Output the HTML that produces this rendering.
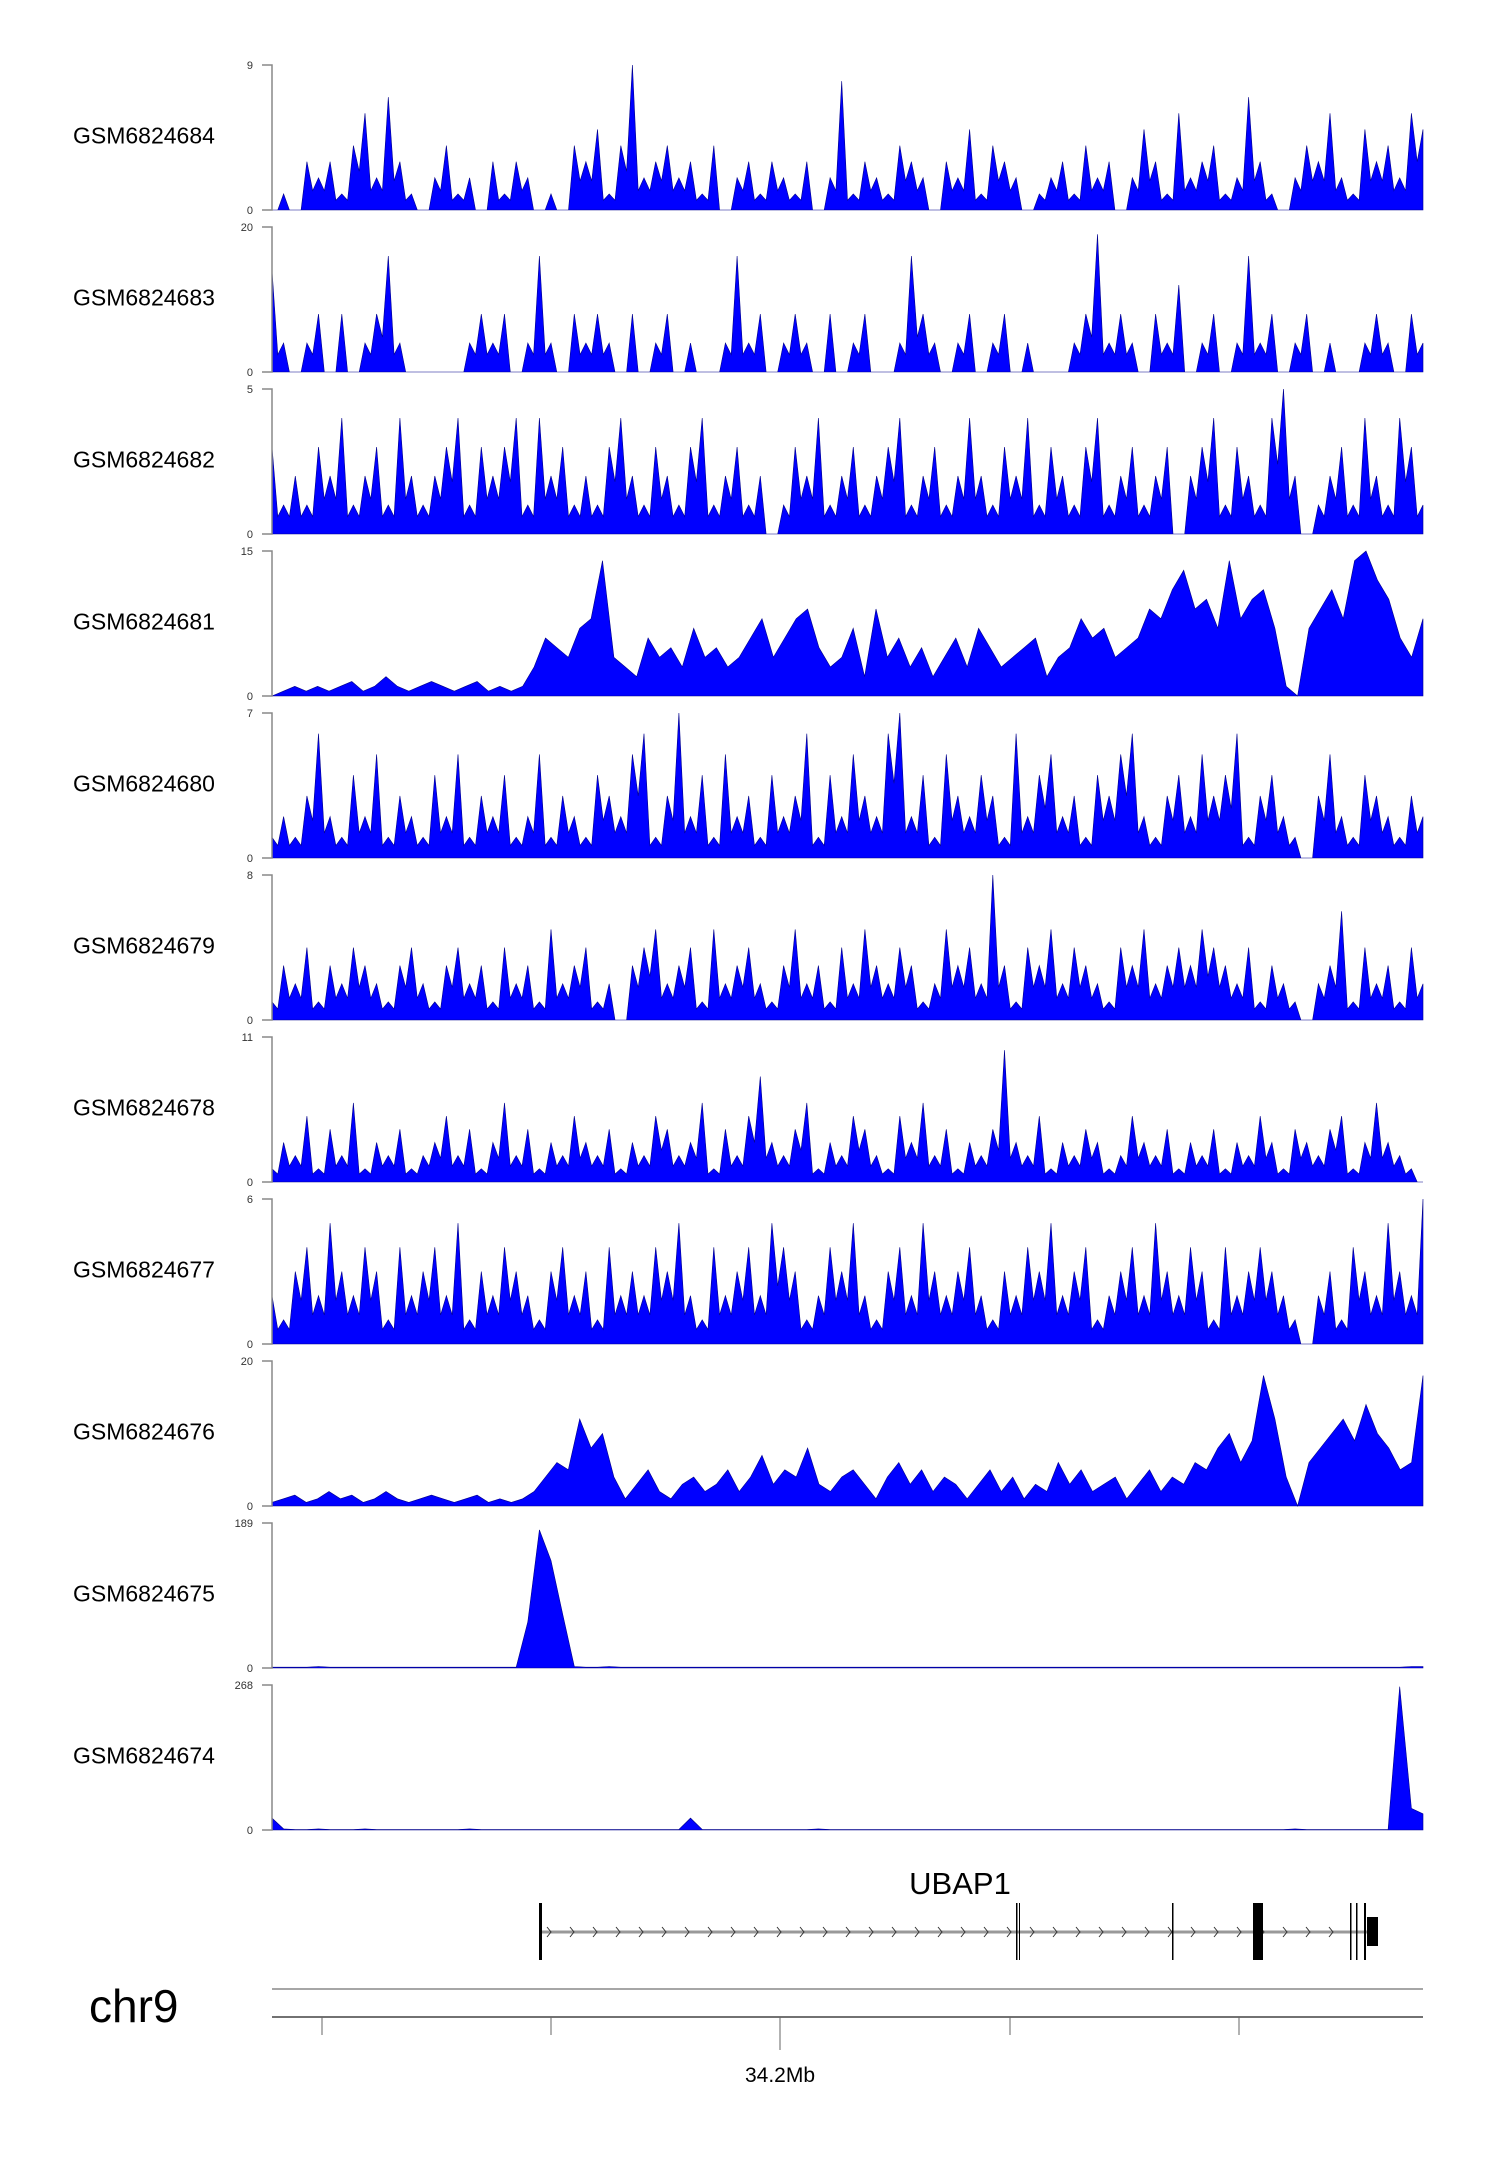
<!DOCTYPE html>
<html><head><meta charset="utf-8"><style>
html,body{margin:0;padding:0;background:#fff;}
svg{display:block;font-family:"Liberation Sans",sans-serif;}
</style></head><body>
<svg id="chart" width="1500" height="2170" viewBox="0 0 1500 2170" xmlns="http://www.w3.org/2000/svg">
<g id="tracks"></g>
<g id="gene"></g>
<g id="axis"></g>
</svg>
<script>
const sampleNames = ["GSM6824684","GSM6824683","GSM6824682","GSM6824681","GSM6824680","GSM6824679","GSM6824678","GSM6824677","GSM6824676","GSM6824675","GSM6824674"];
const trackMax = [9,20,5,15,7,8,11,6,20,189,268];
const spiky = [true,true,true,false,true,true,true,true,false,false,false];
const t84 = [0,1,0,3,2,3,1,4,6,2,7,3,1,0,2,4,1,2,0,3,1,3,2,0,1,0,4,3,5,1,4,9,2,3,4,2,3,1,4,0,2,3,1,3,2,1,3,0,2,8,1,3,2,1,4,3,2,0,3,2,5,1,4,3,2,0,1,2,3,1,4,2,3,0,2,5,3,1,6,2,3,4,1,2,7,3,1,0,2,4,3,6,2,1,5,3,4,2,6,5];
const t83 = [14,4,0,4,8,0,8,0,4,8,16,4,0,0,0,0,0,4,8,4,8,0,4,16,4,0,8,4,8,4,0,8,0,4,8,0,4,0,0,4,16,4,8,0,4,8,4,0,8,0,4,8,0,0,4,16,8,4,0,4,8,0,4,8,0,4,0,0,0,4,8,19,4,8,4,0,8,4,12,0,4,8,0,4,16,4,8,0,4,8,0,4,0,0,4,8,4,0,8,4];
const t82 = [3,1,2,1,3,2,4,1,2,3,1,4,2,1,2,3,4,1,3,2,3,4,1,4,2,3,1,2,1,3,4,2,1,3,2,1,3,4,1,2,3,1,2,0,1,3,2,4,1,2,3,1,2,3,4,1,2,3,1,2,4,2,1,3,2,4,1,3,2,1,3,4,1,2,3,1,2,3,0,2,3,4,1,3,2,1,4,5,2,0,1,2,3,1,4,2,1,4,3,1];
const t81 = [0,0.5,1,0.5,1,0.5,1,1.5,0.5,1,2,1,0.5,1,1.5,1,0.5,1,1.5,0.5,1,0.5,1,3,6,5,4,7,8,14,4,3,2,6,4,5,3,7,4,5,3,4,6,8,4,6,8,9,5,3,4,7,2,9,4,6,3,5,2,4,6,3,7,5,3,4,5,6,2,4,5,8,6,7,4,5,6,9,8,11,13,9,10,7,14,8,10,11,7,1,0,7,9,11,8,14,15,12,10,6,4,8];
const t80 = [1,2,1,3,6,2,1,4,2,5,1,3,2,1,4,2,5,1,3,2,4,1,2,5,1,3,2,1,4,3,2,5,6,1,3,7,2,4,1,5,2,3,1,4,2,3,6,1,4,2,5,3,2,6,7,2,4,1,5,3,2,4,3,1,6,2,4,5,2,3,1,4,3,5,6,2,1,3,4,2,5,3,4,6,1,3,4,2,1,0,3,5,2,1,4,3,2,1,3,2];
const t79 = [1,3,2,4,1,3,2,4,3,2,1,3,4,2,1,3,4,2,3,1,4,2,3,1,5,2,3,4,1,2,0,3,4,5,2,3,4,1,5,2,3,4,2,1,3,5,2,3,1,4,2,5,3,2,4,3,1,2,5,3,4,2,8,3,1,4,3,5,2,4,3,2,1,4,3,5,2,3,4,3,5,4,3,2,4,1,3,2,1,0,2,3,6,1,4,2,3,1,4,2];
const t78 = [1,3,2,5,1,4,2,6,1,3,2,4,1,2,3,5,2,4,1,3,6,2,4,1,3,2,5,3,2,4,1,3,2,5,4,2,3,6,1,4,2,5,8,3,2,4,6,1,3,2,5,4,2,1,5,3,6,2,4,1,3,2,4,10,3,2,5,1,3,2,4,3,1,2,5,3,2,4,1,3,2,4,1,3,2,5,3,1,4,3,2,4,5,1,3,6,3,2,1,0];
const t77 = [2,1,3,4,2,5,3,2,4,3,1,4,2,3,4,2,5,1,3,2,4,3,2,1,3,4,2,3,1,4,2,3,2,4,3,5,2,1,4,2,3,4,2,5,4,3,1,2,4,3,5,2,1,3,4,2,5,3,2,3,4,2,1,3,2,4,3,5,2,3,4,1,2,3,4,2,5,3,2,4,3,1,4,2,3,4,3,2,1,0,2,3,1,4,3,2,5,3,2,6];
const t76 = [0.5,1,1.5,0.5,1,2,1,1.5,0.5,1,2,1,0.5,1,1.5,1,0.5,1,1.5,0.5,1,0.5,1,2,4,6,5,12,8,10,4,1,3,5,2,1,3,4,2,3,5,2,4,7,3,5,4,8,3,2,4,5,3,1,4,6,3,5,2,4,3,1,3,5,2,4,1,3,2,6,3,5,2,3,4,1,3,5,2,4,3,6,5,8,10,6,9,18,12,4,0,6,8,10,12,9,14,10,8,5,6,18];
const t75 = [1,1,1,1,2,1,1,1,1,1,1,1,1,1,1,1,1,1,1,1,1,1,60,180,140,70,2,1,1,2,1,1,1,1,1,1,1,1,1,1,1,1,1,1,1,1,1,1,1,1,1,1,1,1,1,1,1,1,1,1,1,1,1,1,1,1,1,1,1,1,1,1,1,1,1,1,1,1,1,1,1,1,1,1,1,1,1,1,1,1,1,1,1,1,1,1,1,1,2,2];
const t74 = [22,2,1,1,2,1,1,1,2,1,1,1,1,1,1,1,1,2,1,1,1,1,1,1,1,1,1,1,1,1,1,1,1,1,1,1,1,1,1,1,1,1,1,1,1,1,1,2,1,1,1,1,1,1,1,1,1,1,1,1,1,1,1,1,1,1,1,1,1,1,1,1,1,1,1,1,1,1,1,1,1,1,1,1,1,1,1,1,2,1,1,1,1,1,1,1,1,1,1,1];
const t74Peaks = [[36,22],[97,265],[98,40],[99,30]];
t74Peaks.forEach(p=>{t74[p[0]]=p[1];});
const trackData = [t84,t83,t82,t81,t80,t79,t78,t77,t76,t75,t74];

const NS="http://www.w3.org/2000/svg";
const X0=272, X1=1423, TOP0=65, PITCH=162, H=145;
function xScale(i,n){return X0+ i*(X1-X0)/(n-1);}
function yScale(v,max,t){return TOP0+PITCH*t+H - v/max*H;}
const g=document.getElementById('tracks');
function mk(tag,attrs,parent){const e=document.createElementNS(NS,tag);for(const k in attrs)e.setAttribute(k,attrs[k]);parent.appendChild(e);return e;}
trackData.forEach((arr,t)=>{
  const max=trackMax[t];
  const grp=mk('g',{},g);
  
  
  const base=yScale(0,max,t), top=yScale(max,max,t);
  let pts=X0+','+base+' ';
  const n=arr.length;
  arr.forEach((v,i)=>{
    pts+=xScale(i,n).toFixed(1)+','+yScale(v,max,t).toFixed(1)+' ';
    if(spiky[t] && i<n-1){
      const vm=Math.min(v,arr[i+1])*0.6;
      pts+=xScale(i+0.5,n).toFixed(1)+','+yScale(vm,max,t).toFixed(1)+' ';
    }
  });
  pts+=X1+','+base;
  const poly=mk('polygon',{points:pts,fill:'#0000ff',stroke:'#00008b','stroke-width':0.6},grp);
  
  
  const ax=mk('path',{d:`M262,${top}H272V${base}H262`,stroke:'#888',fill:'none','stroke-width':1.5},grp);
  
  
  const tmax=mk('text',{x:253,y:top+4,'font-size':11,'text-anchor':'end',fill:'#333'},grp);
  tmax.textContent=max;
  
  
  const tmin=mk('text',{x:253,y:base+4,'font-size':11,'text-anchor':'end',fill:'#333'},grp);
  tmin.textContent='0';
  
  
  const lab=mk('text',{x:73,y:top+H/2+6,'font-size':23,fill:'#000'},grp);
  lab.textContent=sampleNames[t];
  
  
});
// gene model
const gg=document.getElementById('gene');
const gt=mk('text',{x:960,y:1894,'font-size':31,'text-anchor':'middle',fill:'#000'},gg);
gt.textContent='UBAP1';


const gl=mk('line',{x1:539,x2:1378,y1:1932,y2:1932,stroke:'#999','stroke-width':3},gg);


for(let x=547;x<1345;x+=23){mk('path',{d:`M${x},1927L${x+4},1932L${x},1937`,stroke:'#333',fill:'none','stroke-width':1},gg);}
const exons=[[539,3],[1016,1.5],[1019,1],[1172,1.5],[1253,10],[1350,1.5],[1356,1.5],[1364,2]];
exons.forEach(e=>{const r=mk('rect',{x:e[0],y:1903,width:e[1],height:57,fill:'#000'},gg);});
const utr=mk('rect',{x:1367,y:1917,width:11,height:29,fill:'#000'},gg);


// axis
const ag=document.getElementById('axis');
const chr=mk('text',{x:89,y:2022,'font-size':46,fill:'#000'},ag);
chr.textContent='chr9';


mk('line',{x1:272,x2:1423,y1:1989,y2:1989,stroke:'#888','stroke-width':1.5},ag);
mk('line',{x1:272,x2:1423,y1:2017,y2:2017,stroke:'#444','stroke-width':1.5},ag);
[322,551,780,1010,1239].forEach((x,i)=>{mk('line',{x1:x,x2:x,y1:2017,y2:i==2?2050:2035,stroke:'#666','stroke-width':1},ag);});
const tl=mk('text',{x:780,y:2082,'font-size':21,'text-anchor':'middle',fill:'#000'},ag);
tl.textContent='34.2Mb';


</script>
</body></html>
